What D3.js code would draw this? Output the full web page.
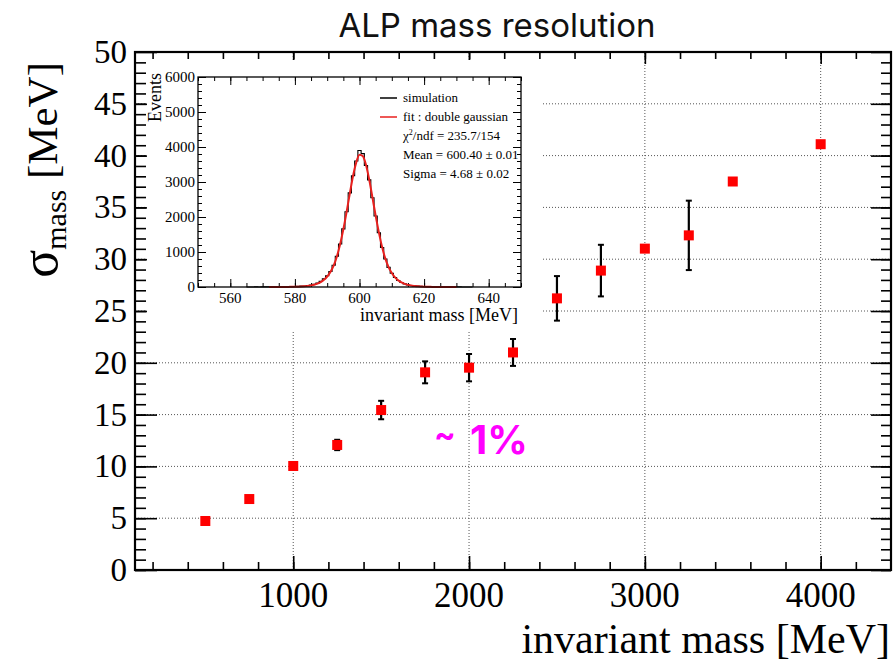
<!DOCTYPE html>
<html>
<head>
<meta charset="utf-8">
<title>ALP mass resolution</title>
<script src="https://d3js.org/d3.v7.min.js"></script>
<style>
body { margin: 0; background: #fff; }
</style>
</head>
<body>
<section id="container"></section>
<script>

// ALP mass points [MeV] and fitted resolution sigma [MeV]
var massPoints = [500, 750, 1000, 1250, 1500, 1750, 2000, 2250, 2500, 2750, 3000, 3250, 3500, 4000];
var sigmaValues = [4.73, 6.85, 10.04, 12.07, 15.44, 19.08, 19.53, 21.0, 26.22, 28.9, 31.02, 32.3, 37.5, 41.1];
var sigmaErrors = [0, 0, 0, 0.5, 0.89, 1.06, 1.32, 1.3, 2.15, 2.49, 0, 3.35, 0, 0];

var xTicks = [1000, 2000, 3000, 4000];
var yTicks = [0, 5, 10, 15, 20, 25, 30, 35, 40, 45, 50];

// inset: 600 MeV sample, simulated histogram (1 MeV bins) and double gaussian fit
var simMass = [565, 566, 567, 568, 569, 570, 571, 572, 573, 574, 575, 576, 577, 578, 579, 580, 581, 582, 583, 584, 585, 586, 587, 588, 589, 590, 591, 592, 593, 594, 595, 596, 597, 598, 599, 600, 601, 602, 603, 604, 605, 606, 607, 608, 609, 610, 611, 612, 613, 614, 615, 616, 617, 618, 619, 620, 621, 622, 623, 624, 625, 626, 627, 628, 629, 630, 631, 632, 633, 634, 635];
var simCounts = [2, 1, 2, 3, 2, 3, 4, 3, 5, 6, 5, 7, 8, 9, 12, 14, 18, 24, 30, 40, 55, 78, 110, 160, 235, 320, 445, 620, 880, 1230, 1660, 2150, 2690, 3180, 3600, 3900, 3810, 3470, 3060, 2550, 2030, 1550, 1130, 800, 560, 395, 270, 185, 128, 90, 62, 45, 33, 25, 19, 15, 12, 10, 8, 7, 6, 5, 5, 4, 3, 3, 3, 2, 2, 2, 1];
var fitMass = [572, 573, 574, 575, 576, 577, 578, 579, 580, 581, 582, 583, 584, 585, 586, 587, 588, 589, 590, 591, 592, 593, 594, 595, 596, 597, 598, 599, 600, 601, 602, 603, 604, 605, 606, 607, 608, 609, 610, 611, 612, 613, 614, 615, 616, 617, 618, 619, 620, 621, 622, 623, 624, 625, 626, 627, 628, 629, 630];
var fitCounts = [0, 0, 1, 1, 1, 2, 3, 5, 7, 10, 15, 22, 32, 45, 65, 95, 140, 205, 300, 430, 610, 870, 1220, 1650, 2140, 2670, 3170, 3560, 3780, 3740, 3490, 3070, 2560, 2040, 1560, 1140, 810, 570, 400, 275, 190, 130, 88, 60, 42, 30, 20, 14, 9, 6, 4, 3, 2, 1, 1, 1, 0, 0, 0];

var insetXTicks = [560, 580, 600, 620, 640];
var insetYTicks = [0, 1000, 2000, 3000, 4000, 5000, 6000];
var legendEntries = ["simulation", "fit : double gaussian"];
var legendColors = ["#000", "#e8201e"];
var statLines = ["/ndf = 235.7/154", "Mean = 600.40 \u00b1 0.01", "Sigma = 4.68 \u00b1 0.02"];

var width = 896, height = 662;
var serif = "'Liberation Serif', 'Times New Roman', serif";

var svg = d3.select("#container")
	.append("svg")
	.attr("width", width)
	.attr("height", height)
	.style("background", "#fff");

//Main frame scales
var x = d3.scaleLinear().domain([100, 4400]).range([135, 891]);
var y = d3.scaleLinear().domain([0, 50]).range([570, 52]);

//Dotted grid
svg.append("g").selectAll("line")
	.data(xTicks)
	.enter().append("line")
	.attr("x1", function(d) { return x(d); })
	.attr("x2", function(d) { return x(d); })
	.attr("y1", y(0))
	.attr("y2", y(50))
	.attr("stroke", "#555")
	.attr("stroke-dasharray", "1,2");

svg.append("g").selectAll("line")
	.data(yTicks.slice(1, -1))
	.enter().append("line")
	.attr("x1", x(100))
	.attr("x2", x(4400))
	.attr("y1", function(d) { return y(d); })
	.attr("y2", function(d) { return y(d); })
	.attr("stroke", "#555")
	.attr("stroke-dasharray", "1,2");

//ROOT style inward ticks
var tickGroup = function(axis, transform) {
	svg.append("g")
		.attr("transform", transform)
		.call(axis)
		.call(function(g) { g.select(".domain").remove(); })
		.selectAll("line").attr("stroke", "#000").attr("stroke-width", 1.6);
};

var xMinor = d3.range(200, 4400, 200);
var yMinor = d3.range(0, 50, 1);

tickGroup(d3.axisBottom(x).tickValues(xMinor).tickSize(-8).tickFormat(""), "translate(0,570)");
tickGroup(d3.axisBottom(x).tickValues(xTicks).tickSize(-14).tickFormat(""), "translate(0,570)");
tickGroup(d3.axisTop(x).tickValues(xMinor).tickSize(-7).tickFormat(""), "translate(0,52)");
tickGroup(d3.axisTop(x).tickValues(xTicks).tickSize(-12).tickFormat(""), "translate(0,52)");
tickGroup(d3.axisLeft(y).tickValues(yMinor).tickSize(-11).tickFormat(""), "translate(135,0)");
tickGroup(d3.axisLeft(y).tickValues(yTicks).tickSize(-22).tickFormat(""), "translate(135,0)");
tickGroup(d3.axisRight(y).tickValues(yMinor).tickSize(-10).tickFormat(""), "translate(891,0)");
tickGroup(d3.axisRight(y).tickValues(yTicks).tickSize(-20).tickFormat(""), "translate(891,0)");

//Frame
svg.append("rect")
	.attr("x", 135).attr("y", 52)
	.attr("width", 756).attr("height", 518)
	.attr("fill", "none")
	.attr("stroke", "#000")
	.attr("stroke-width", 2.2);

//Tick labels
svg.append("g").selectAll("text")
	.data(xTicks)
	.enter().append("text")
	.attr("x", function(d) { return x(d); })
	.attr("y", 607)
	.attr("text-anchor", "middle")
	.style("font-family", serif)
	.style("font-size", "35px")
	.text(function(d) { return d; });

svg.append("g").selectAll("text")
	.data(yTicks)
	.enter().append("text")
	.attr("x", 127)
	.attr("y", function(d) { return y(d) + 11; })
	.attr("text-anchor", "end")
	.style("font-family", serif)
	.style("font-size", "33px")
	.text(function(d) { return d; });

//Axis titles
svg.append("text")
	.attr("x", 890)
	.attr("y", 653)
	.attr("text-anchor", "end")
	.style("font-family", serif)
	.style("font-size", "42px")
	.text("invariant mass [MeV]");

var yTitle = svg.append("text")
	.attr("transform", "translate(57,62) rotate(-90)")
	.attr("text-anchor", "end")
	.style("font-family", serif)
	.style("font-size", "43px");
yTitle.append("tspan").style("font-size", "52px").text("\u03c3");
yTitle.append("tspan").attr("dy", 9).style("font-size", "30px").text("mass");
yTitle.append("tspan").attr("dy", -9).text(" [MeV]");

//Title
svg.append("text")
	.attr("x", 497)
	.attr("y", 37)
	.attr("text-anchor", "middle")
	.style("font-family", "Inter, 'Noto Sans', sans-serif")
	.style("font-size", "33px")
	.attr("fill", "#111")
	.text("ALP mass resolution");

//Error bars and markers
var points = massPoints.map(function(m, i) {
	return { m: m, s: sigmaValues[i], e: sigmaErrors[i] };
});

var bars = svg.append("g").selectAll("g")
	.data(points.filter(function(d) { return d.e > 0; }))
	.enter().append("g");
bars.append("line")
	.attr("x1", function(d) { return x(d.m); })
	.attr("x2", function(d) { return x(d.m); })
	.attr("y1", function(d) { return y(d.s - d.e); })
	.attr("y2", function(d) { return y(d.s + d.e); })
	.attr("stroke", "#000").attr("stroke-width", 2.2);
[-1, 1].forEach(function(sign) {
	bars.append("line")
		.attr("x1", function(d) { return x(d.m) - 3; })
		.attr("x2", function(d) { return x(d.m) + 3; })
		.attr("y1", function(d) { return y(d.s + sign * d.e); })
		.attr("y2", function(d) { return y(d.s + sign * d.e); })
		.attr("stroke", "#000").attr("stroke-width", 2);
});

svg.append("g").selectAll("rect")
	.data(points)
	.enter().append("rect")
	.attr("x", function(d) { return x(d.m) - 5; })
	.attr("y", function(d) { return y(d.s) - 5; })
	.attr("width", 10)
	.attr("height", 10)
	.attr("fill", "#f00");

//Inset pad
svg.append("rect")
	.attr("x", 147).attr("y", 60)
	.attr("width", 394).attr("height", 270)
	.attr("fill", "#fff");

var xi = d3.scaleLinear().domain([550, 650]).range([198, 521]);
var yi = d3.scaleLinear().domain([0, 6000]).range([287, 77]);

var insetTicks = function(axis, transform) {
	svg.append("g")
		.attr("transform", transform)
		.call(axis)
		.call(function(g) { g.select(".domain").remove(); })
		.selectAll("line").attr("stroke", "#000").attr("stroke-width", 1);
};
var xiMinor = d3.range(550, 651, 5);
var yiMinor = d3.range(0, 6001, 200);
insetTicks(d3.axisBottom(xi).tickValues(xiMinor).tickSize(-4).tickFormat(""), "translate(0,287)");
insetTicks(d3.axisBottom(xi).tickValues(insetXTicks).tickSize(-8).tickFormat(""), "translate(0,287)");
insetTicks(d3.axisTop(xi).tickValues(xiMinor).tickSize(-4).tickFormat(""), "translate(0,77)");
insetTicks(d3.axisTop(xi).tickValues(insetXTicks).tickSize(-8).tickFormat(""), "translate(0,77)");
insetTicks(d3.axisLeft(yi).tickValues(yiMinor).tickSize(-4).tickFormat(""), "translate(198,0)");
insetTicks(d3.axisLeft(yi).tickValues(insetYTicks).tickSize(-8).tickFormat(""), "translate(198,0)");
insetTicks(d3.axisRight(yi).tickValues(yiMinor).tickSize(-4).tickFormat(""), "translate(521,0)");
insetTicks(d3.axisRight(yi).tickValues(insetYTicks).tickSize(-8).tickFormat(""), "translate(521,0)");

//Inset histogram and fit
svg.append("path")
	.datum(simMass.map(function(m, i) { return [m, simCounts[i]]; }))
	.attr("d", d3.line()
		.x(function(d) { return xi(d[0]); })
		.y(function(d) { return yi(d[1]); })
		.curve(d3.curveStep))
	.attr("fill", "none")
	.attr("stroke", "#000")
	.attr("stroke-width", 1.1);

svg.append("path")
	.datum(fitMass.map(function(m, i) { return [m, fitCounts[i]]; }))
	.attr("d", d3.line()
		.x(function(d) { return xi(d[0]); })
		.y(function(d) { return yi(d[1]); })
		.curve(d3.curveMonotoneX))
	.attr("fill", "none")
	.attr("stroke", "#e8201e")
	.attr("stroke-width", 2);

svg.append("rect")
	.attr("x", 198).attr("y", 77)
	.attr("width", 323).attr("height", 210)
	.attr("fill", "none")
	.attr("stroke", "#000")
	.attr("stroke-width", 1.3);

//Inset labels
svg.append("g").selectAll("text")
	.data(insetXTicks)
	.enter().append("text")
	.attr("x", function(d) { return xi(d); })
	.attr("y", 303)
	.attr("text-anchor", "middle")
	.style("font-family", serif)
	.style("font-size", "15px")
	.text(function(d) { return d; });

svg.append("g").selectAll("text")
	.data(insetYTicks)
	.enter().append("text")
	.attr("x", 195)
	.attr("y", function(d) { return yi(d) + 5; })
	.attr("text-anchor", "end")
	.style("font-family", serif)
	.style("font-size", "15px")
	.text(function(d) { return d; });

svg.append("text")
	.attr("x", 518)
	.attr("y", 321)
	.attr("text-anchor", "end")
	.style("font-family", serif)
	.style("font-size", "18px")
	.text("invariant mass [MeV]");

svg.append("text")
	.attr("transform", "translate(161,73) rotate(-90)")
	.attr("text-anchor", "end")
	.style("font-family", serif)
	.style("font-size", "18px")
	.text("Events");

//Inset legend
var legend = svg.append("g");
legendEntries.forEach(function(label, i) {
	legend.append("line")
		.attr("x1", 380).attr("x2", 397)
		.attr("y1", 98 + i * 19).attr("y2", 98 + i * 19)
		.attr("stroke", legendColors[i]).attr("stroke-width", 1.5);
	legend.append("text")
		.attr("x", 403).attr("y", 102 + i * 19)
		.style("font-family", serif)
		.style("font-size", "13px")
		.text(label);
});
statLines.forEach(function(label, i) {
	var t = legend.append("text")
		.attr("x", 403).attr("y", 140 + i * 19)
		.style("font-family", serif)
		.style("font-size", "13px");
	if (i === 0) {
		t.append("tspan").text("\u03c7");
		t.append("tspan").attr("dy", -5).style("font-size", "8px").text("2");
		t.append("tspan").attr("dy", 5).text(label);
	} else {
		t.text(label);
	}
});

//Annotation
svg.append("text")
	.attr("x", 434)
	.attr("y", 446)
	.style("font-family", "Inter, 'Noto Sans', sans-serif")
	.style("font-weight", "bold")
	.style("font-size", "32px")
	.attr("fill", "#f0f")
	.text("~");
svg.append("text")
	.attr("x", 470)
	.attr("y", 454)
	.style("font-family", "Inter, 'Noto Sans', sans-serif")
	.style("font-weight", "bold")
	.style("font-size", "40px")
	.attr("fill", "#f0f")
	.text("1%");

</script>
</body>
</html>
